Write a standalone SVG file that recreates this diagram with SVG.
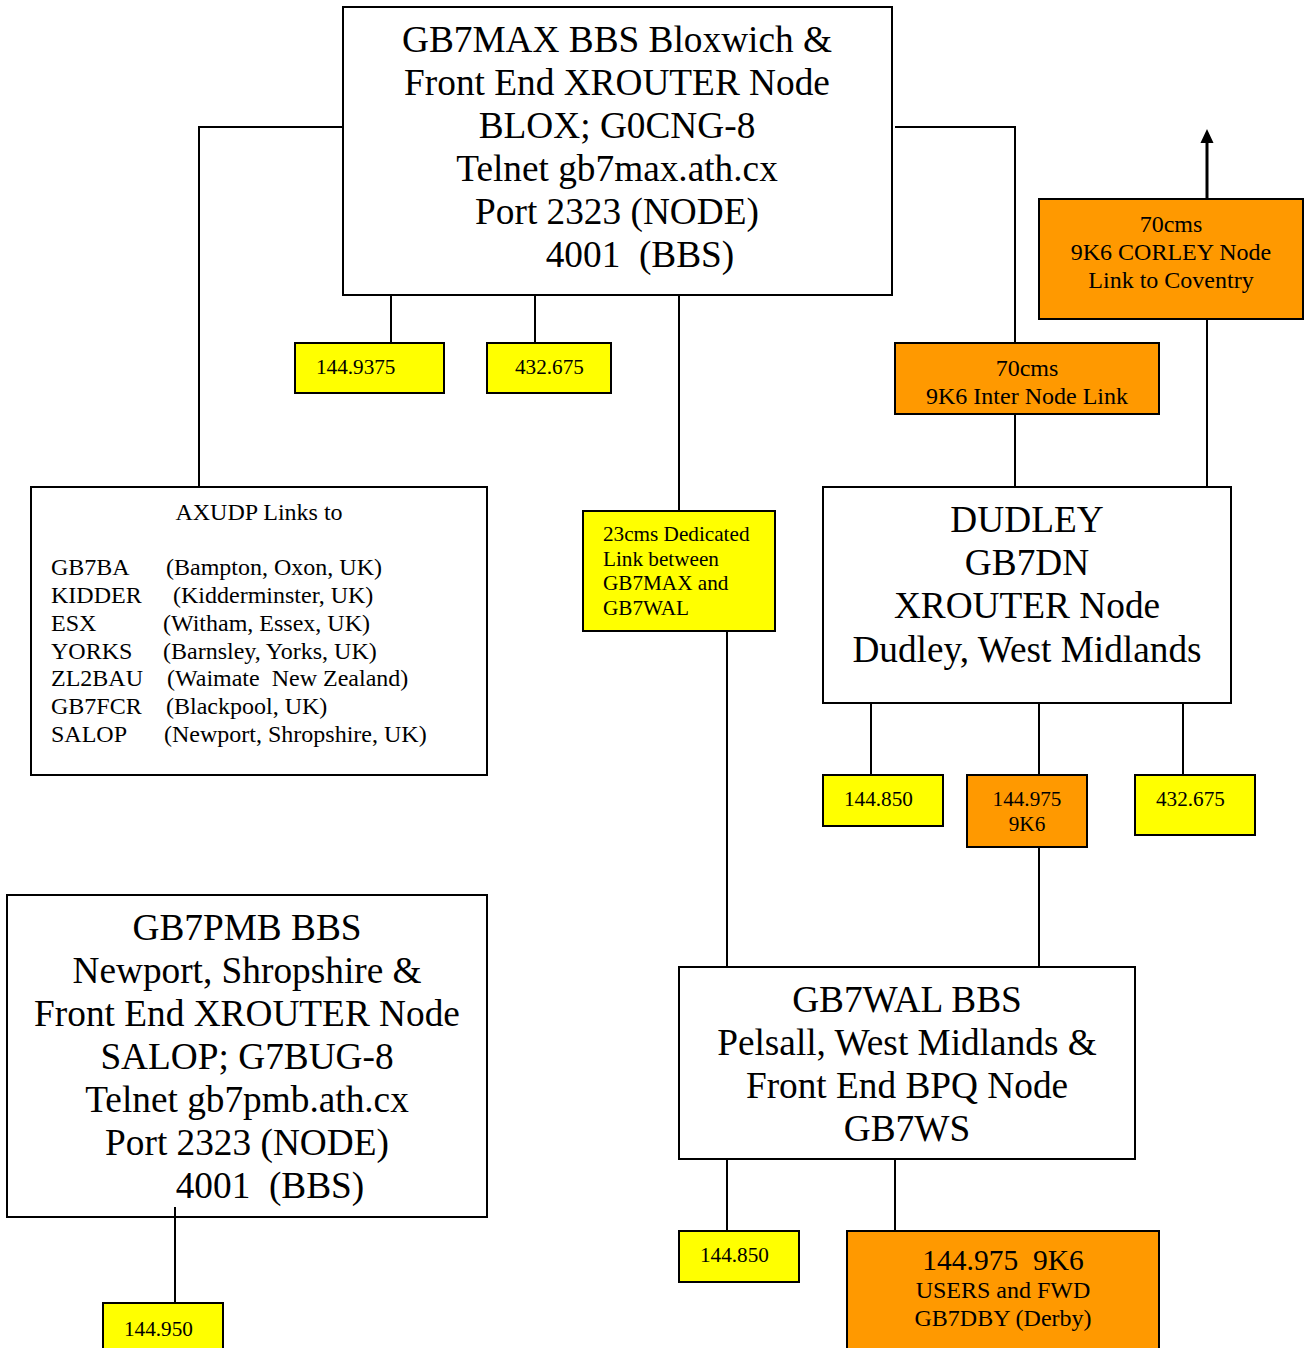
<svg xmlns="http://www.w3.org/2000/svg" width="1308" height="1348" viewBox="0 0 1308 1348">
<style>
.box{fill:#fff;stroke:#000;stroke-width:2}
.y{fill:#ffff00;stroke:#000;stroke-width:2}
.o{fill:#ff9900;stroke:#000;stroke-width:2}
.ln{fill:none;stroke:#000;stroke-width:2}
text{font-family:"Liberation Serif","Times New Roman",serif;fill:#000}
.big{font-size:37.3px;text-anchor:middle}
.sm{font-size:21.2px}
.smc{font-size:21.2px;text-anchor:middle}
.mc{font-size:24px;text-anchor:middle}
.ax{font-size:24px}
</style>
<defs>
<marker id="ah" markerWidth="14" markerHeight="15" refX="0" refY="7" orient="auto" markerUnits="userSpaceOnUse" viewBox="0 0 15 14">
<path d="M0,0 L15,7 L0,14 Z" fill="#000"/>
</marker>
</defs>
<rect width="1308" height="1348" fill="#fff"/>
<g id="gb7max">
<rect class="box" x="343" y="7" width="549" height="288"/>
<text class="big" x="617" y="52">GB7MAX BBS Bloxwich &amp;</text>
<text class="big" x="617" y="95">Front End XROUTER Node</text>
<text class="big" x="617" y="138">BLOX; G0CNG-8</text>
<text class="big" x="617" y="181">Telnet gb7max.ath.cx</text>
<text class="big" x="617" y="224">Port 2323 (NODE)</text>
<text class="big" x="640" y="267" xml:space="preserve">4001  (BBS)</text>
</g>
<g id="f1449375">
<rect class="y" x="295" y="343" width="149" height="50"/>
<text class="sm" x="316" y="374">144.9375</text>
</g>
<g id="f432675a">
<rect class="y" x="487" y="343" width="124" height="50"/>
<text class="sm" x="515" y="374">432.675</text>
</g>
<g id="axudp">
<rect class="box" x="31" y="487" width="456" height="288"/>
<text class="ax" x="259" y="520" text-anchor="middle">AXUDP Links to</text>
<text class="ax" x="51" y="575">GB7BA</text><text class="ax" x="166" y="575">(Bampton, Oxon, UK)</text>
<text class="ax" x="51" y="603">KIDDER</text><text class="ax" x="173" y="603">(Kidderminster, UK)</text>
<text class="ax" x="51" y="631">ESX</text><text class="ax" x="163" y="631">(Witham, Essex, UK)</text>
<text class="ax" x="51" y="659">YORKS</text><text class="ax" x="163" y="659">(Barnsley, Yorks, UK)</text>
<text class="ax" x="51" y="686">ZL2BAU</text><text class="ax" x="167" y="686" xml:space="preserve">(Waimate  New Zealand)</text>
<text class="ax" x="51" y="714">GB7FCR</text><text class="ax" x="166" y="714">(Blackpool, UK)</text>
<text class="ax" x="51" y="742">SALOP</text><text class="ax" x="164" y="742">(Newport, Shropshire, UK)</text>
</g>
<g id="link23">
<rect class="y" x="583" y="511" width="192" height="120"/>
<text class="sm" x="603" y="541">23cms Dedicated</text>
<text class="sm" x="603" y="566">Link between</text>
<text class="sm" x="603" y="590">GB7MAX and</text>
<text class="sm" x="603" y="615">GB7WAL</text>
</g>
<g id="internode">
<rect class="o" x="895" y="343" width="264" height="71"/>
<text class="mc" x="1027" y="376">70cms</text>
<text class="mc" x="1027" y="404">9K6 Inter Node Link</text>
</g>
<g id="corley">
<rect class="o" x="1039" y="199" width="264" height="120"/>
<text class="mc" x="1171" y="232">70cms</text>
<text class="mc" x="1171" y="260">9K6 CORLEY Node</text>
<text class="mc" x="1171" y="288">Link to Coventry</text>
</g>
<g id="dudley">
<rect class="box" x="823" y="487" width="408" height="216"/>
<text class="big" x="1027" y="532">DUDLEY</text>
<text class="big" x="1027" y="575">GB7DN</text>
<text class="big" x="1027" y="618">XROUTER Node</text>
<text class="big" x="1027" y="662">Dudley, West Midlands</text>
</g>
<g id="f144850a">
<rect class="y" x="823" y="775" width="120" height="51"/>
<text class="sm" x="844" y="806">144.850</text>
</g>
<g id="f144975a">
<rect class="o" x="967" y="775" width="120" height="72"/>
<text class="smc" x="1027" y="806">144.975</text>
<text class="smc" x="1027" y="831">9K6</text>
</g>
<g id="f432675b">
<rect class="y" x="1135" y="775" width="120" height="60"/>
<text class="sm" x="1156" y="806">432.675</text>
</g>
<g id="gb7wal">
<rect class="box" x="679" y="967" width="456" height="192"/>
<text class="big" x="907" y="1012">GB7WAL BBS</text>
<text class="big" x="907" y="1055">Pelsall, West Midlands &amp;</text>
<text class="big" x="907" y="1098">Front End BPQ Node</text>
<text class="big" x="907" y="1141">GB7WS</text>
</g>
<g id="f144850b">
<rect class="y" x="679" y="1231" width="120" height="51"/>
<text class="sm" x="700" y="1262">144.850</text>
</g>
<g id="users">
<rect class="o" x="847" y="1231" width="312" height="130"/>
<text x="1003" y="1270" style="font-size:29.5px;text-anchor:middle" xml:space="preserve">144.975  9K6</text>
<text class="mc" x="1003" y="1298">USERS and FWD</text>
<text class="mc" x="1003" y="1326">GB7DBY (Derby)</text>
</g>
<g id="gb7pmb">
<rect class="box" x="7" y="895" width="480" height="322"/>
<text class="big" x="247" y="940">GB7PMB BBS</text>
<text class="big" x="247" y="983">Newport, Shropshire &amp;</text>
<text class="big" x="247" y="1026">Front End XROUTER Node</text>
<text class="big" x="247" y="1069">SALOP; G7BUG-8</text>
<text class="big" x="247" y="1112">Telnet gb7pmb.ath.cx</text>
<text class="big" x="247" y="1155">Port 2323 (NODE)</text>
<text class="big" x="270" y="1198" xml:space="preserve">4001  (BBS)</text>
</g>
<g id="f144950">
<rect class="y" x="103" y="1303" width="120" height="60"/>
<text class="sm" x="124" y="1336">144.950</text>
</g>
<g id="connectors">
<polyline class="ln" points="343,127 199,127 199,487"/>
<polyline class="ln" points="895,127 1015,127 1015,343"/>
<line class="ln" x1="391" y1="295" x2="391" y2="343"/>
<line class="ln" x1="535" y1="295" x2="535" y2="343"/>
<line class="ln" x1="679" y1="295" x2="679" y2="511"/>
<line class="ln" x1="727" y1="631" x2="727" y2="967"/>
<line class="ln" x1="1015" y1="414" x2="1015" y2="487"/>
<line class="ln" x1="1207" y1="319" x2="1207" y2="487"/>
<line x1="1207" y1="199" x2="1207" y2="143" stroke="#000" stroke-width="3" marker-end="url(#ah)"/>
<line class="ln" x1="871" y1="703" x2="871" y2="775"/>
<line class="ln" x1="1039" y1="703" x2="1039" y2="775"/>
<line class="ln" x1="1183" y1="703" x2="1183" y2="775"/>
<line class="ln" x1="1039" y1="847" x2="1039" y2="967"/>
<line class="ln" x1="727" y1="1159" x2="727" y2="1231"/>
<line class="ln" x1="895" y1="1159" x2="895" y2="1231"/>
<line class="ln" x1="175" y1="1207" x2="175" y2="1303"/>
</g>
</svg>
